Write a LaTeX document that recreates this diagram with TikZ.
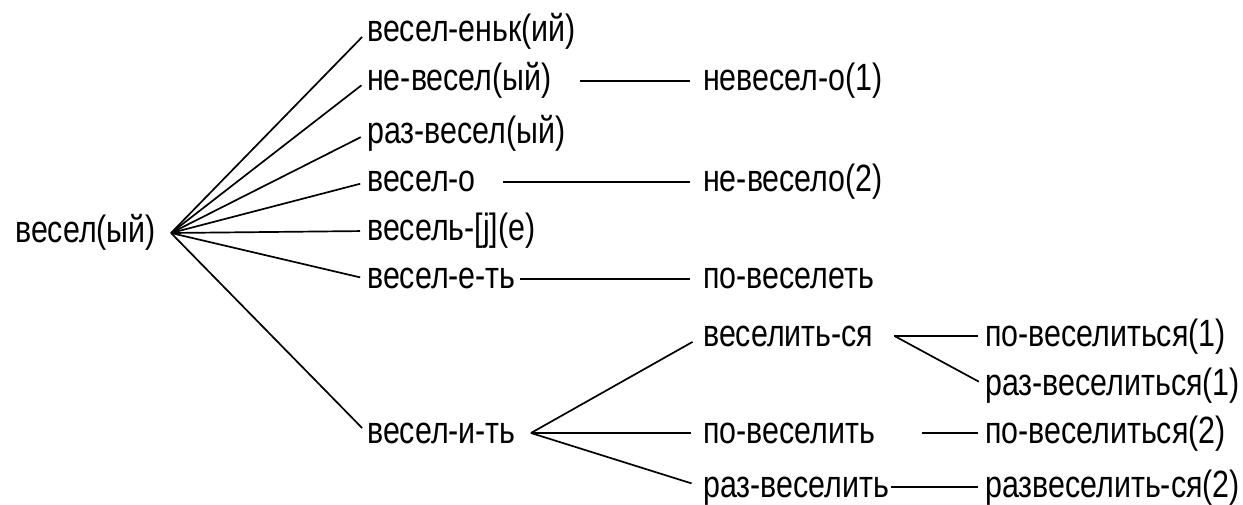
\documentclass[tikz,border=0pt]{standalone}
\usepackage{fontspec}
\setmainfont{Liberation Sans}[FakeStretch=0.8]
\tikzset{
  word/.style={anchor=west, inner sep=0pt, text height=28pt, text depth=8pt},
  link/.style={line width=1.7pt},
}
\begin{document}
\begin{tikzpicture}[x=1pt, y=-1pt, font=\fontsize{38}{44}\selectfont]
    \useasboundingbox (0,0) rectangle (1243,505);

    % root and first column
    \node[word] (vesel) at (15,233) {весел(ый)};
    \coordinate (rootj) at ([xshift=15pt]vesel.east);
    \node[word] (veselenk) at (367,32) {весел-еньк(ий)};
    \node[word] (nevesel) at (367,81) {не-весел(ый)};
    \node[word] (razvesel) at (367,134) {раз-весел(ый)};
    \node[word] (veselo) at (367,182) {весел-о};
    \node[word] (veselj) at (367,231) {весель-[j](е)};
    \node[word] (vesele) at (367,279) {весел-е-ть};
    \node[word] (veseli) at (367,433) {весел-и-ть};
    \foreach \n in {veselenk, nevesel, razvesel, veselo, veselj, vesele, veseli}
        \draw[link, shorten >=7pt] (rootj) -- (\n.west);

    % second column
    \node[word] (nevesel1) at (703,81) {невесел-о(1)};
    \node[word] (nevesel2) at (703,182) {не-весело(2)};
    \node[word] (poveselet) at (703,279) {по-веселеть};
    \node[word] (veselitsya) at (703,336) {веселить-ся};
    \node[word] (poveselit) at (703,433) {по-веселить};
    \node[word] (razveselit) at (703,487) {раз-веселить};
    \draw[link, shorten >=13pt] ([xshift=28pt]nevesel.east) -- (nevesel1.west);
    \draw[link, shorten >=13pt] ([xshift=27pt]veselo.east) -- (nevesel2.west);
    \draw[link, shorten >=13pt] ([xshift=4pt]vesele.east) -- (poveselet.west);
    \coordinate (veselij) at ([xshift=15pt]veseli.east);
    \foreach \n in {veselitsya, poveselit, razveselit}
        \draw[link, shorten >=12pt] (veselij) -- (\n.west);

    % third column
    \node[word] (poveselitsya1) at (985,336) {по-веселиться(1)};
    \node[word] (razveselitsya1) at (985,385) {раз-веселиться(1)};
    \node[word] (poveselitsya2) at (985,433) {по-веселиться(2)};
    \node[word] (razveselitsya2) at (985,487) {развеселить-ся(2)};
    \coordinate (veselitsyaj) at ([xshift=21pt]veselitsya.east);
    \draw[link, shorten >=7pt] (veselitsyaj) -- (poveselitsya1.west);
    \draw[link, shorten >=7pt] (veselitsyaj) -- (razveselitsya1.west);
    \draw[link, shorten >=7pt] ([xshift=47pt]poveselit.east) -- (poveselitsya2.west);
    \draw[link, shorten >=7pt] ([xshift=2pt]razveselit.east) -- (razveselitsya2.west);
\end{tikzpicture}
\end{document}
